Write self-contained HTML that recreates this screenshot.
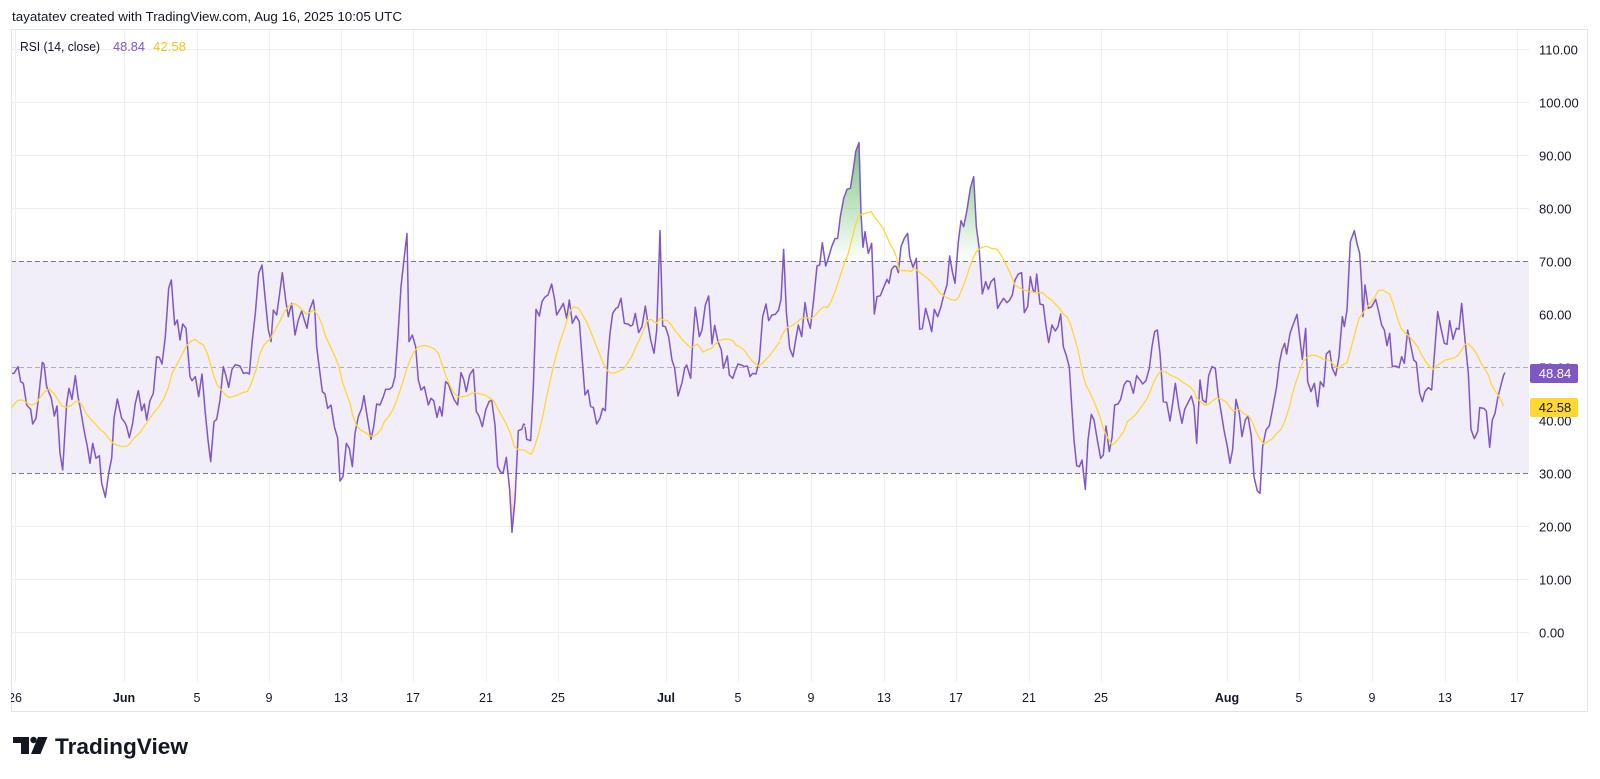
<!DOCTYPE html>
<html><head><meta charset="utf-8"><style>html,body{margin:0;padding:0;background:#fff;width:1600px;height:779px;overflow:hidden}</style></head>
<body>
<svg width="1600" height="779" viewBox="0 0 1600 779" xmlns="http://www.w3.org/2000/svg" xmlns:xlink="http://www.w3.org/1999/xlink" font-family="'Liberation Sans', Arial, sans-serif">
<defs>
<clipPath id="plot"><rect x="11" y="29" width="1518" height="653"/></clipPath>
<clipPath id="frame"><rect x="11" y="29" width="1577" height="683"/></clipPath>
<linearGradient id="gg" gradientUnits="userSpaceOnUse" x1="0" y1="102" x2="0" y2="261.5"><stop offset="0" stop-color="#4CAF50" stop-opacity="1"/><stop offset="1" stop-color="#4CAF50" stop-opacity="0"/></linearGradient>
<linearGradient id="rg" gradientUnits="userSpaceOnUse" x1="0" y1="473.5" x2="0" y2="632"><stop offset="0" stop-color="#F23645" stop-opacity="0"/><stop offset="1" stop-color="#F23645" stop-opacity="1"/></linearGradient>

<polyline id="p6" fill="none" stroke="#7E57C2" stroke-width="1.5" stroke-linejoin="round" vector-effect="non-scaling-stroke" transform="matrix(0.33333,0,0,0.33333,10,200)" points="0,520 12,520 24,500 32,545 40,550 50,615 62,628 68,672 78,655 86,590 97,487 102,492 110,560 118,580 124,595 133,648 141,618 150,760 158,810 170,610 177,565 186,598 196,527 204,590 212,630 222,690 232,740 240,790 248,730 258,775 268,767 275,850 286,892 296,820 305,775 312,655 322,597 335,655 345,668 350,680 358,713 368,670 376,610 385,572 395,632 403,612 410,660 420,602 430,580 440,470 448,472 456,492 466,410 476,265 484,240 494,375 502,360 510,420 518,372 528,385 540,530 546,542 556,530 566,590 576,522 586,640 594,720 602,785 612,665 620,658 630,600 640,500 648,528 656,562 666,508 676,494 690,498 700,520 710,518 718,522 726,430 736,340 746,220 756,195 766,300 775,390 780,410"/>
<polyline id="p7" fill="none" stroke="#7E57C2" stroke-width="1.5" stroke-linejoin="round" vector-effect="non-scaling-stroke" transform="matrix(0.33333,0,0,0.33333,265,200)" points="15,410 18,425 25,330 35,345 44,280 52,218 62,300 70,350 80,310 90,405 100,360 110,333 118,360 126,385 134,330 145,300 150,340 155,440 165,520 172,575 180,582 188,625 198,615 208,680 218,715 225,843 234,830 244,730 253,745 262,800 270,700 280,650 290,625 297,587 305,640 318,718 326,680 335,612 345,615 355,590 362,568 375,567 382,560 390,530 398,420 408,260 418,170 426,100 432,425 442,405 452,440 460,540 468,570 478,560 490,615 498,595 506,602 516,652 524,620 531,648 542,545 550,552 560,580 568,600 578,615 588,518 596,538 604,575 614,525 625,508 634,635 642,648 652,680 662,630 672,605 680,600 690,675 698,800 706,815 714,820 724,772 734,870 741,997 750,900 760,692 770,688 776,672 780,675"/>
<polyline id="p8" fill="none" stroke="#7E57C2" stroke-width="1.5" stroke-linejoin="round" vector-effect="non-scaling-stroke" transform="matrix(0.33333,0,0,0.33333,520,200)" points="15,680 20,718 32,722 40,560 48,328 58,348 66,305 74,292 84,285 95,252 104,300 110,345 120,328 130,310 140,355 148,300 157,370 168,348 178,365 186,470 195,585 204,570 212,620 220,622 230,672 240,655 248,625 256,632 264,470 270,400 278,340 288,325 294,322 303,295 313,370 324,372 332,378 338,375 346,340 356,398 366,380 376,318 384,372 392,420 402,460 410,392 420,92 428,378 436,380 446,410 456,480 464,505 474,588 486,548 494,505 500,495 512,535 518,430 526,322 538,410 546,390 556,315 566,288 576,432 584,376 594,425 604,450 610,505 622,468 628,525 638,535 646,512 654,492 664,495 674,500 682,498 690,530 698,520 708,522 718,480 728,350 738,312 746,362 756,345 766,343 776,330 780,310"/>
<polyline id="p9" fill="none" stroke="#7E57C2" stroke-width="1.5" stroke-linejoin="round" vector-effect="non-scaling-stroke" transform="matrix(0.33333,0,0,0.33333,775,130)" points="15,520 18,510 26,358 34,545 44,655 54,680 62,630 70,585 80,620 90,518 98,570 106,595 116,510 126,408 134,405 142,338 152,408 160,385 170,350 180,326 188,325 196,260 206,205 216,178 226,175 234,125 242,65 252,38 258,250 264,352 270,305 280,370 290,340 298,552 306,500 316,497 326,472 336,448 342,460 350,418 358,408 364,410 370,428 378,350 388,325 398,310 404,380 414,412 424,385 434,598 442,596 452,535 462,572 470,605 478,538 488,560 498,530 506,497 516,465 524,378 532,425 540,460 550,335 558,272 566,290 576,240 586,175 596,140 604,290 612,350 622,492 632,455 640,478 648,455 658,445 668,535 676,520 686,505 696,518 704,510 712,495 720,450 730,432 740,428 748,548 758,530 766,440 774,480 780,488"/>
<polyline id="p10" fill="none" stroke="#7E57C2" stroke-width="1.5" stroke-linejoin="round" vector-effect="non-scaling-stroke" transform="matrix(0.33333,0,0,0.33333,1030,200)" points="15,278 20,222 30,312 40,315 48,380 56,428 66,375 76,393 84,380 92,342 100,440 110,470 118,502 126,630 132,720 140,797 148,800 156,780 166,868 174,720 184,643 192,660 202,720 212,775 220,765 228,678 238,755 246,712 254,615 264,612 272,598 282,555 290,543 300,545 310,580 320,527 330,540 338,552 348,542 358,505 366,440 374,395 382,390 390,460 400,605 410,607 420,663 428,610 436,550 446,620 456,670 464,628 474,608 484,588 492,618 500,730 510,540 518,600 528,608 536,527 546,500 556,505 564,580 574,640 582,690 592,740 600,790 608,748 618,598 628,640 636,710 646,660 654,648 664,710 672,830 682,873 690,880 698,740 708,690 718,677 728,625 740,560 748,490 756,450 764,430 770,462 780,400"/>
<polyline id="p11" fill="none" stroke="#7E57C2" stroke-width="1.5" stroke-linejoin="round" vector-effect="non-scaling-stroke" transform="matrix(0.33333,0,0,0.33333,1285,200)" points="15,400 24,375 36,343 44,410 52,478 62,385 68,545 78,575 88,550 98,620 106,545 116,560 124,462 134,452 142,505 152,527 162,470 172,350 178,380 186,330 196,125 208,92 216,130 224,160 230,255 234,350 240,255 250,325 260,320 272,298 280,330 290,375 298,390 306,437 314,400 322,500 332,498 342,503 350,470 358,490 368,390 378,440 386,480 394,487 404,580 412,605 420,575 430,563 440,570 450,440 458,335 468,385 478,430 486,433 494,362 504,418 514,385 522,388 530,310 540,420 550,520 558,688 568,716 578,695 584,623 596,625 604,633 614,742 622,660 630,640 638,595 648,555 656,525 660,518"/>

<clipPath id="ob">
<use href="#p6" xlink:href="#p6"/><use href="#p7" xlink:href="#p7"/><use href="#p8" xlink:href="#p8"/><use href="#p9" xlink:href="#p9"/><use href="#p10" xlink:href="#p10"/><use href="#p11" xlink:href="#p11"/>
</clipPath>
</defs>

<rect width="1600" height="779" fill="#ffffff"/>

<!-- header -->
<text x="12" y="21" font-size="13" fill="#131722" textLength="390" lengthAdjust="spacingAndGlyphs">tayatatev created with TradingView.com, Aug 16, 2025 10:05 UTC</text>

<!-- band -->
<rect x="11" y="261" width="1518" height="212" fill="#F1EDF9"/>

<!-- grid -->
<g stroke="#EEEFF4" stroke-width="1">
<line x1="11" x2="1529" y1="49.5" y2="49.5"/><line x1="11" x2="1529" y1="102.5" y2="102.5"/><line x1="11" x2="1529" y1="155.5" y2="155.5"/><line x1="11" x2="1529" y1="208.5" y2="208.5"/><line x1="11" x2="1529" y1="314.5" y2="314.5"/><line x1="11" x2="1529" y1="420.5" y2="420.5"/><line x1="11" x2="1529" y1="526.5" y2="526.5"/><line x1="11" x2="1529" y1="579.5" y2="579.5"/><line x1="11" x2="1529" y1="632.5" y2="632.5"/>
<line x1="15.5" x2="15.5" y1="29" y2="682"/><line x1="124.5" x2="124.5" y1="29" y2="682"/><line x1="197.5" x2="197.5" y1="29" y2="682"/><line x1="269.5" x2="269.5" y1="29" y2="682"/><line x1="341.5" x2="341.5" y1="29" y2="682"/><line x1="413.5" x2="413.5" y1="29" y2="682"/><line x1="486.5" x2="486.5" y1="29" y2="682"/><line x1="558.5" x2="558.5" y1="29" y2="682"/><line x1="666.5" x2="666.5" y1="29" y2="682"/><line x1="738.5" x2="738.5" y1="29" y2="682"/><line x1="811.5" x2="811.5" y1="29" y2="682"/><line x1="884.5" x2="884.5" y1="29" y2="682"/><line x1="956.5" x2="956.5" y1="29" y2="682"/><line x1="1029.5" x2="1029.5" y1="29" y2="682"/><line x1="1101.5" x2="1101.5" y1="29" y2="682"/><line x1="1227.5" x2="1227.5" y1="29" y2="682"/><line x1="1299.5" x2="1299.5" y1="29" y2="682"/><line x1="1372.5" x2="1372.5" y1="29" y2="682"/><line x1="1445.5" x2="1445.5" y1="29" y2="682"/><line x1="1517.5" x2="1517.5" y1="29" y2="682"/>
</g>

<!-- dashed levels -->
<g stroke="#787B86" stroke-width="1" stroke-dasharray="5 3">
<line x1="11" x2="1529" y1="261.5" y2="261.5"/>
<line x1="11" x2="1529" y1="367.5" y2="367.5" stroke-opacity="0.55"/>
<line x1="11" x2="1529" y1="473.5" y2="473.5"/>
</g>

<!-- gradient fills -->
<rect x="11" y="29" width="1518" height="232.5" fill="url(#gg)" clip-path="url(#ob)"/>
<rect x="11" y="473.5" width="1518" height="208" fill="url(#rg)" clip-path="url(#ob)"/>

<g clip-path="url(#plot)">
<!-- RSI line -->
<use href="#p6" xlink:href="#p6"/><use href="#p7" xlink:href="#p7"/><use href="#p8" xlink:href="#p8"/><use href="#p9" xlink:href="#p9"/><use href="#p10" xlink:href="#p10"/><use href="#p11" xlink:href="#p11"/>
<!-- MA line -->
<g fill="none" stroke="#FDD835" stroke-width="1.3" stroke-linejoin="round">
<polyline vector-effect="non-scaling-stroke" transform="matrix(0.33333,0,0,0.33333,10,200)" points="0,632 10,615 22,602 36,600 50,608 66,616 78,610 90,592 104,575 118,566 132,580 144,600 156,618 168,622 182,618 196,605 206,603 216,615 228,640 240,655 256,672 270,688 285,700 298,718 310,730 325,737 340,740 352,738 362,728 374,712 388,700 402,680 416,660 430,640 448,618 462,595 476,560 486,520 500,495 514,468 528,440 542,424 555,418 566,427 580,435 592,460 602,495 612,530 622,555 634,570 646,584 656,592 670,590 686,584 700,577 712,575 724,550 738,510 750,460 762,435 776,420 780,418"/>
<polyline vector-effect="non-scaling-stroke" transform="matrix(0.33333,0,0,0.33333,265,200)" points="15,418 30,390 44,365 58,335 72,318 86,310 100,318 112,330 124,342 134,338 146,330 158,345 170,370 182,410 196,440 210,470 222,500 232,545 244,580 256,612 264,650 274,675 286,690 300,697 312,705 324,710 336,702 348,688 358,665 372,648 384,628 394,605 404,575 414,545 424,510 436,478 448,453 462,440 478,436 494,440 508,447 520,460 530,490 540,520 552,550 564,575 578,590 592,590 606,588 620,580 632,578 646,582 660,585 672,592 686,602 698,625 712,650 724,672 736,700 748,740 758,748 770,750 780,750"/>
<polyline vector-effect="non-scaling-stroke" transform="matrix(0.33333,0,0,0.33333,520,200)" points="15,752 34,763 44,740 56,700 68,650 78,600 90,545 100,500 110,460 122,420 134,385 144,350 152,330 162,320 176,325 188,345 202,370 214,400 226,430 238,460 250,490 262,512 274,520 286,518 300,512 312,505 322,490 334,472 346,445 358,420 370,392 382,362 392,358 402,365 410,370 420,355 430,360 442,362 452,372 462,388 474,402 486,418 498,430 510,442 520,440 532,432 542,445 548,456 560,450 574,445 586,432 598,422 612,417 628,418 640,424 648,435 662,442 674,452 686,470 696,483 708,493 716,498 724,493 736,480 748,468 760,452 772,435 780,425"/>
<polyline vector-effect="non-scaling-stroke" transform="matrix(0.33333,0,0,0.33333,775,130)" points="15,630 24,610 36,593 50,588 64,578 80,565 96,563 110,565 122,555 134,540 146,530 158,532 168,515 178,490 188,462 198,430 208,400 220,370 230,330 240,290 252,256 270,250 288,245 298,260 310,275 324,295 334,315 344,340 356,360 364,380 372,420 382,422 396,422 408,425 418,415 428,422 440,432 454,442 468,455 480,470 496,490 510,500 526,508 542,511 552,500 562,475 572,448 582,418 594,385 604,365 620,352 636,349 652,356 666,357 680,378 694,405 708,435 720,465 734,474 746,480 762,485 780,487"/>
<polyline vector-effect="non-scaling-stroke" transform="matrix(0.33333,0,0,0.33333,1030,200)" points="15,278 38,278 50,290 64,300 76,312 88,325 100,342 112,352 124,380 134,415 144,450 152,490 160,530 168,555 180,578 190,600 200,625 210,650 218,680 230,708 246,735 258,725 270,710 282,693 292,665 304,655 316,645 326,632 338,615 352,595 362,570 374,540 386,520 396,512 408,517 420,525 432,530 444,535 456,545 468,553 482,562 492,575 500,595 512,605 524,616 536,612 548,602 560,594 574,598 588,605 600,622 610,634 620,630 628,628 640,640 656,648 668,668 678,695 690,718 702,732 714,725 728,715 740,700 752,690 764,665 780,615"/>
<polyline vector-effect="non-scaling-stroke" transform="matrix(0.33333,0,0,0.33333,1285,200)" points="15,615 20,590 30,555 42,520 54,485 66,472 80,465 94,467 106,472 118,480 132,480 142,490 152,500 162,505 172,495 186,488 198,445 210,400 222,355 234,338 246,322 258,305 270,290 280,272 290,270 302,275 314,283 324,310 336,350 348,385 362,400 374,410 386,425 398,440 410,465 422,485 434,500 446,508 458,495 470,488 480,480 494,477 508,474 520,465 530,450 540,433 550,432 562,443 574,460 586,485 598,505 610,525 620,555 632,575 644,592 656,618"/>
</g>
</g>

<!-- frame -->
<rect x="11.5" y="29.5" width="1576" height="682" fill="none" stroke="#E0E3EB" stroke-width="1"/>

<!-- legend -->
<text x="20" y="51" font-size="12.5" fill="#131722" textLength="80" lengthAdjust="spacingAndGlyphs">RSI (14, close)</text>
<text x="113" y="51" font-size="12.5" fill="#7E57C2" textLength="32" lengthAdjust="spacingAndGlyphs">48.84</text>
<text x="153" y="51" font-size="12.5" fill="#F5C518" textLength="33" lengthAdjust="spacingAndGlyphs">42.58</text>

<!-- price axis -->
<g font-size="13" fill="#131722">
<text x="1539" y="54.5">110.00</text>
<text x="1539" y="107.5">100.00</text>
<text x="1539" y="160.5">90.00</text>
<text x="1539" y="213.5">80.00</text>
<text x="1539" y="266.5">70.00</text>
<text x="1539" y="319.5">60.00</text>
<text x="1539" y="372.5">50.00</text>
<text x="1539" y="425.5">40.00</text>
<text x="1539" y="478.5">30.00</text>
<text x="1539" y="531.5">20.00</text>
<text x="1539" y="584.5">10.00</text>
<text x="1539" y="637.5">0.00</text>
</g>
<rect x="1530" y="364" width="48" height="19" rx="2" fill="#7E57C2"/>
<text x="1555" y="378" font-size="13" fill="#ffffff" text-anchor="middle">48.84</text>
<rect x="1530" y="398" width="48" height="19" rx="2" fill="#FDD835"/>
<text x="1555" y="412" font-size="13" fill="#131722" text-anchor="middle">42.58</text>

<!-- time axis -->
<g font-size="12.5" fill="#131722" text-anchor="middle" clip-path="url(#frame)">
<text x="15" y="702">26</text>
<text x="124" y="702" font-weight="bold">Jun</text>
<text x="197" y="702">5</text>
<text x="269" y="702">9</text>
<text x="341" y="702">13</text>
<text x="413" y="702">17</text>
<text x="486" y="702">21</text>
<text x="558" y="702">25</text>
<text x="666" y="702" font-weight="bold">Jul</text>
<text x="738" y="702">5</text>
<text x="811" y="702">9</text>
<text x="884" y="702">13</text>
<text x="956" y="702">17</text>
<text x="1029" y="702">21</text>
<text x="1101" y="702">25</text>
<text x="1227" y="702" font-weight="bold">Aug</text>
<text x="1299" y="702">5</text>
<text x="1372" y="702">9</text>
<text x="1445" y="702">13</text>
<text x="1517" y="702">17</text>
</g>

<!-- logo -->
<g fill="#131722">
<path d="M13,737 H29 V754 H21 V743 H13 Z"/>
<circle cx="33.5" cy="740" r="3.2"/>
<path d="M38,737 H47.5 L40.5,754 H31 Z"/>
</g>
<text x="55" y="754" font-size="22" font-weight="bold" fill="#131722" textLength="133" lengthAdjust="spacingAndGlyphs">TradingView</text>
</svg>
</body></html>
